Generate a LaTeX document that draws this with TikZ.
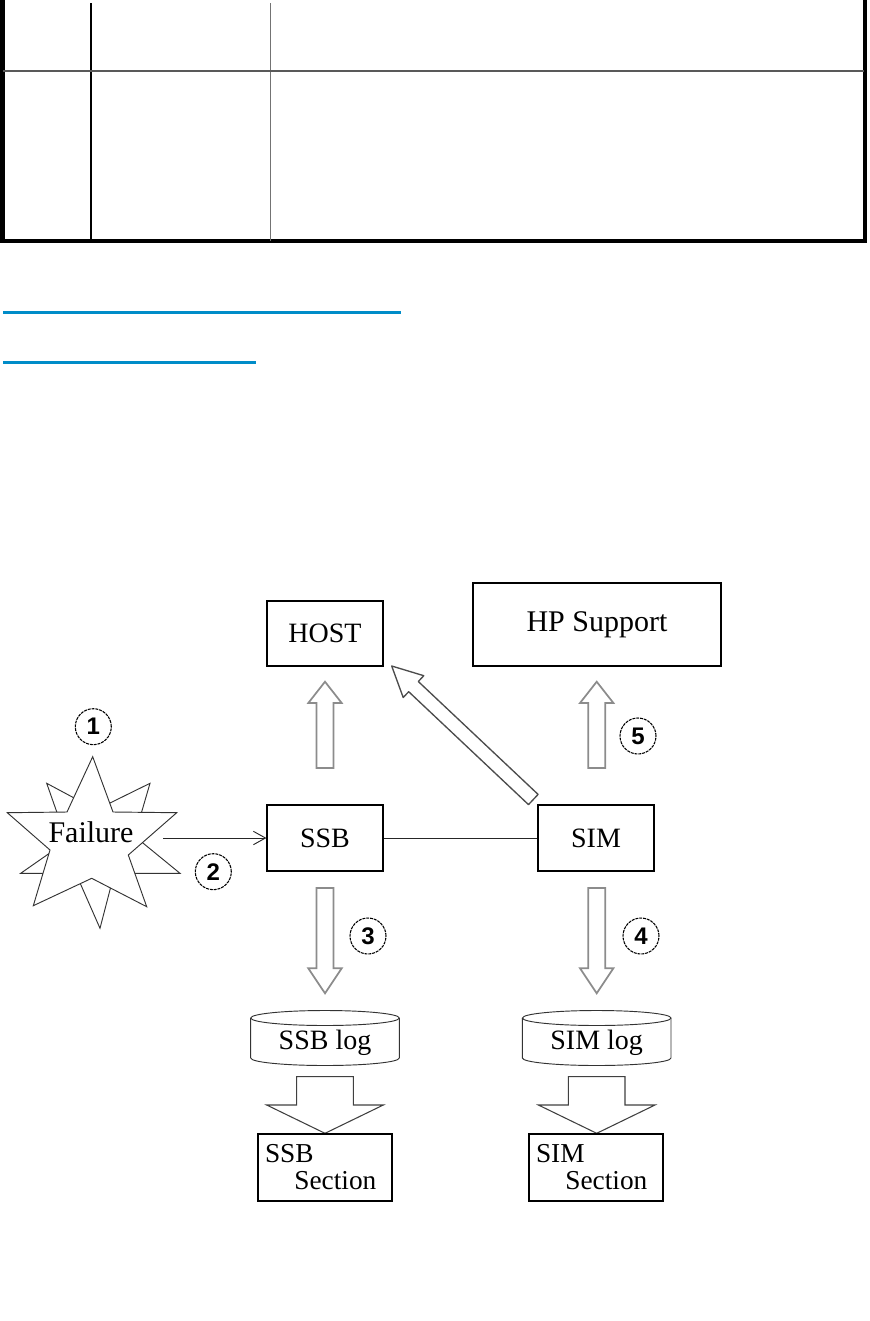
\documentclass[tikz,border=0pt]{standalone}
\usepackage{fontspec}
\setmainfont{Liberation Serif}
\newfontfamily\numfont{Liberation Sans}
\usetikzlibrary{arrows.meta}
\definecolor{linkblue}{RGB}{0,140,200}
\newcommand\blockarr[7]{%
  \draw[#1] ({#2-#6},#3) -- ({#2-#6},#4) -- ({#2-#7},#4) -- (#2,#5) -- ({#2+#7},#4) -- ({#2+#6},#4) -- ({#2+#6},#3) -- cycle;}
\newcommand\drum[1]{%
  \draw[line width=0.7pt, draw=black!80, fill=white] ({#1-74.3},1018) -- ({#1-74.3},1058) arc[start angle=180, end angle=0, x radius=74.3, y radius=7.5] -- ({#1+74.3},1018);
  \draw[line width=0.7pt, draw=black!80] (#1,1018) ellipse[x radius=74.3, y radius=7.5];}
\begin{document}
\begin{tikzpicture}[x=0.75pt,y=-0.75pt,
  box/.style={draw=black, line width=0.9pt, minimum width=116*0.75pt, minimum height=65*0.75pt, inner sep=0pt, font=\fontsize{21}{24}\selectfont},
  secbox/.style={draw=black, line width=1.5pt, minimum width=133*0.75pt, minimum height=67*0.75pt, text width=90pt, inner xsep=5pt, inner ysep=0pt, align=left, font=\fontsize{20.5}{20}\selectfont},
  num/.style={circle, draw, dash pattern=on 2.2pt off 0.7pt, line width=0.8pt, minimum size=36*0.75pt, inner sep=0pt, font=\numfont\bfseries\fontsize{18}{20}\selectfont},
  thinblock/.style={draw=black!45, line width=1.3pt, fill=white, line join=miter},
  fatblock/.style={draw=black!75, line width=0.8pt, fill=white},
  diagblock/.style={draw=black!70, line width=1pt, fill=white, line join=round},
  star/.style={draw=black!80, line width=0.7pt, fill=white, line join=miter},
  conn/.style={draw=black!85, line width=0.7pt},
  lbl/.style={inner sep=0pt, font=\fontsize{21}{22}\selectfont}]
\useasboundingbox (0,0) rectangle (870,1321);

% ---- table fragment ----
\draw[line width=3.6pt] (2.3,0) -- (2.3,241) -- (865,241) -- (865,0);
\draw[line width=1pt] (91,3) -- (91,241);
\draw[line width=0.8pt, black!55] (270.5,3) -- (270.5,241);
\draw[line width=1.1pt, black!65] (3,71) -- (864,71);

% ---- link lines ----
\draw[linkblue, line width=1.6pt] (3,312.5) -- (401,312.5);
\draw[linkblue, line width=1.6pt] (3,362.5) -- (256,362.5);

% ---- boxes ----
\node[box] (host) at (325,633.5) {HOST};
\node[box, minimum width=248*0.75pt, minimum height=83*0.75pt, font=\fontsize{22.5}{24}\selectfont] (hp) at (597,624.5) {HP Support};
\node[box, minimum height=66*0.75pt] (ssb) at (325,838) {SSB};
\node[box, minimum height=66*0.75pt] (sim) at (596,838) {SIM};

% ---- failure star ----
\draw[star] (46.7,783.3) -- (96.2,809.8) -- (150,783.3) -- (134.6,836.2) -- (180,873.3) -- (114.3,873.3) -- (100,928.3) -- (75.8,873.3) -- (20.7,873.3) -- (67,841) -- cycle;
\draw[star] (92.7,756.7) -- (113,812) -- (176.7,812.7) -- (128.3,855) -- (146.7,906.7) -- (91.7,878.3) -- (33.3,905.7) -- (50,850) -- (7.3,812.7) -- (67,812) -- cycle;
\node[inner sep=0pt, font=\fontsize{22.5}{24}\selectfont] (failure) at (91,832) {Failure};
\coordinate (fout) at (163,838);

% ---- connectors ----
\draw[conn, -{Straight Barb[length=9pt, width=10pt]}] (fout) -- (ssb.west);
\draw[conn] (ssb) -- (sim);

% ---- block arrows ----
\blockarr{thinblock}{325}{768}{703}{681.7}{8.5}{16.7}
\blockarr{thinblock}{596.7}{768}{703}{681.7}{8.5}{16.7}
\blockarr{thinblock}{325}{888}{968.3}{993.3}{8.5}{16.7}
\blockarr{thinblock}{596.7}{888}{968.3}{993.3}{8.5}{16.7}
\draw[diagblock] (538.1,794.4) -- (418.3,681.5) -- (423.8,675.7) -- (391.7,666) -- (403.2,697.5) -- (408.7,691.7) -- (528.5,804.6) -- cycle;

% ---- logs ----
\drum{325}
\drum{596.7}
\node[lbl] (ssblog) at (325,1043) {SSB log};
\node[lbl] (simlog) at (596.7,1043) {SIM log};

\blockarr{fatblock}{325}{1076.7}{1105}{1133.3}{28.3}{58.3}
\blockarr{fatblock}{596.7}{1076.7}{1105}{1133.3}{28.3}{58.3}

% ---- sections ----
\node[secbox] (ssbsec) at (325,1167) {SSB\\\hspace*{22pt}Section};
\node[secbox] (simsec) at (596,1167) {SIM\\\hspace*{22pt}Section};

% ---- step numbers ----
\node[num] (n1) at (93.3,726.7) {1};
\node[num] (n2) at (213.3,871.7) {2};
\node[num] (n3) at (368,936) {3};
\node[num] (n4) at (641,936) {4};
\node[num] (n5) at (638,736) {5};
\end{tikzpicture}
\end{document}
